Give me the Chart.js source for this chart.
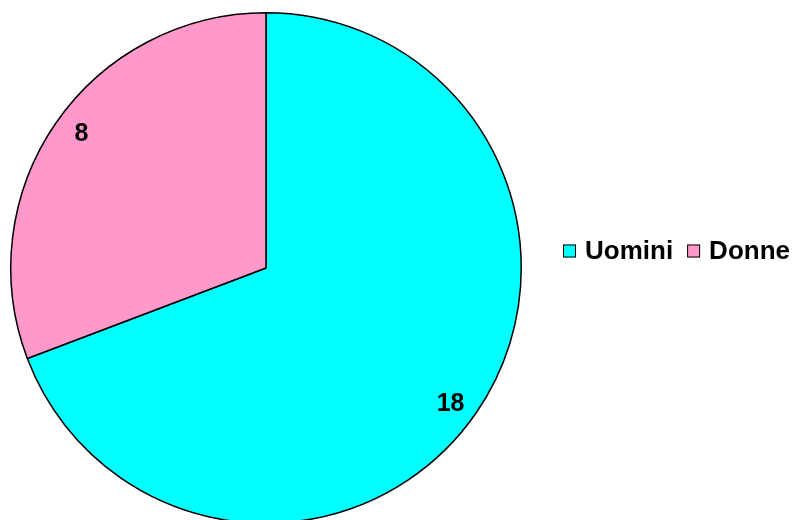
<!DOCTYPE html>
<html>
<head>
<meta charset="utf-8">
<script src="https://cdn.jsdelivr.net/npm/chart.js@4"></script>
<style>
  html, body { margin: 0; padding: 0; background: #fff; overflow: hidden; }
  #wrap { position: relative; width: 793px; height: 530px; }
</style>
</head>
<body>
<div id="wrap"><canvas id="chart" width="793" height="530"></canvas></div>
<script>
const categories = ['Uomini', 'Donne'];
const values = [18, 8];
const colors = ['#00FFFF', '#FF99CC'];

const FONT = '"Liberation Sans", Arial, sans-serif';

// value labels inside the slices
const sliceLabels = {
  id: 'sliceLabels',
  afterDatasetsDraw(chart) {
    const { ctx } = chart;
    const meta = chart.getDatasetMeta(0);
    ctx.save();
    ctx.font = `bold 25px ${FONT}`;
    ctx.fillStyle = '#000';
    ctx.textAlign = 'center';
    ctx.textBaseline = 'middle';
    meta.data.forEach((arc, i) => {
      const mid = (arc.startAngle + arc.endAngle) / 2 + 0.026;
      const r = arc.outerRadius * 0.895;
      ctx.fillText(String(values[i]), arc.x + Math.cos(mid) * r, arc.y + Math.sin(mid) * r + 1);
    });
    ctx.restore();
  }
};

// horizontal legend on the right
const sideLegend = {
  id: 'sideLegend',
  afterDraw(chart) {
    const { ctx } = chart;
    ctx.save();
    ctx.font = `bold 26px ${FONT}`;
    ctx.textBaseline = 'middle';
    let x = 563;
    const y = 251;
    categories.forEach((name, i) => {
      ctx.fillStyle = colors[i];
      ctx.fillRect(x, y - 6.5, 13, 13);
      ctx.strokeStyle = '#000';
      ctx.lineWidth = 1;
      ctx.strokeRect(x + 0.5, y - 6, 12, 12);
      ctx.fillStyle = '#000';
      ctx.fillText(name, x + 22, y + 1);
      x += 22 + ctx.measureText(name).width + 14;
    });
    ctx.restore();
  }
};

new Chart(document.getElementById('chart'), {
  type: 'pie',
  data: {
    labels: categories,
    datasets: [
      {
        data: values,
        backgroundColor: colors,
        borderColor: '#000',
        borderWidth: 1.5
      }
    ]
  },
  options: {
    responsive: false,
    animation: false,
    layout: {
      padding: { left: 10, top: 12, right: 271, bottom: 6 }
    },
    plugins: {
      legend: { display: false },
      tooltip: { enabled: false }
    }
  },
  plugins: [sliceLabels, sideLegend]
});
</script>
</body>
</html>
